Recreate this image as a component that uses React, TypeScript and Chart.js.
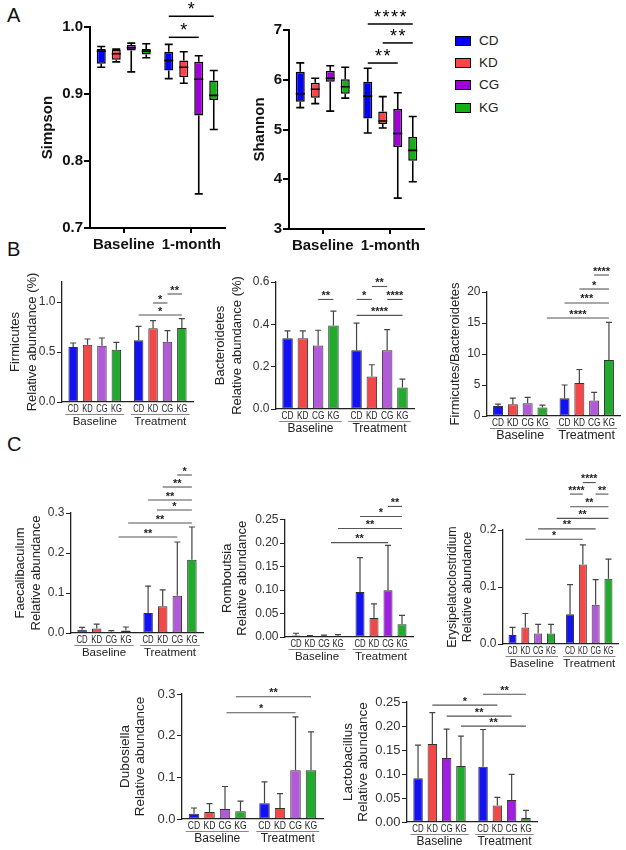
import React, { useEffect, useRef } from 'react';
import { Chart, registerables } from 'chart.js';
Chart.register(...registerables);

// ---------- categories ----------
const groupNames = ['CD', 'KD', 'CG', 'KG'];
const timeLabelsA = ['Baseline', '1-month'];
const phaseLabels = ['Baseline', 'Treatment'];

// ---------- Panel A : box plots (order CD,KD,CG,KG baseline, then CD,KD,CG,KG 1-month) ----------
const simpsonMin = [0.940, 0.948, 0.933, 0.954, 0.923, 0.916, 0.751, 0.847];
const simpsonQ1 = [0.945, 0.951, 0.965, 0.959, 0.935, 0.925, 0.868, 0.891];
const simpsonMedian = [0.964, 0.960, 0.969, 0.964, 0.950, 0.940, 0.922, 0.898];
const simpsonQ3 = [0.967, 0.966, 0.973, 0.967, 0.963, 0.950, 0.948, 0.920];
const simpsonMax = [0.971, 0.967, 0.976, 0.975, 0.974, 0.963, 0.957, 0.935];
const simpsonTicks = [0.7, 0.8, 0.9, 1.0];
const simpsonSig: [number, number, number, string][] = [[4, 7, 1.016, '*'], [4, 6, 0.9846, '*']];

const shannonMin = [5.44, 5.52, 5.37, 5.63, 4.93, 5.03, 3.62, 3.95];
const shannonQ1 = [5.56, 5.64, 5.96, 5.72, 5.22, 5.11, 4.65, 4.37];
const shannonMedian = [5.72, 5.81, 6.03, 5.86, 5.67, 5.17, 4.92, 4.58];
const shannonQ3 = [6.16, 5.94, 6.18, 6.01, 5.96, 5.36, 5.41, 4.85];
const shannonMax = [6.34, 6.03, 6.28, 6.25, 6.23, 5.66, 5.74, 5.26];
const shannonTicks = [3, 4, 5, 6, 7];
const shannonSig: [number, number, number, string][] = [[4, 7, 7.12, '****'], [5, 7, 6.74, '**'], [4, 6, 6.336, '**']];

// ---------- Panels B / C : mean and SD ----------
const firmicutesMean = [0.55, 0.573, 0.563, 0.523, 0.617, 0.737, 0.603, 0.74];
const firmicutesSD = [0.04, 0.057, 0.077, 0.074, 0.14, 0.076, 0.11, 0.093];
const firmicutesTicks = [0, 0.5, 1.0];
const firmicutesSig: [number, number, number, string][] = [[6, 7, 1.08, '**'], [5, 6, 0.99, '*'], [4, 7, 0.87, '*']];

const bacteroidetesMean = [0.334, 0.334, 0.300, 0.395, 0.278, 0.153, 0.277, 0.102];
const bacteroidetesSD = [0.035, 0.035, 0.072, 0.067, 0.128, 0.056, 0.098, 0.039];
const bacteroidetesTicks = [0, 0.2, 0.4, 0.6];
const bacteroidetesSig: [number, number, number, string][] = [
  [5, 6, 0.5788, '**'], [2, 3, 0.5176, '**'], [4, 5, 0.5176, '*'], [6, 7, 0.5176, '****'], [4, 7, 0.4424, '****'],
];

const ratioMean = [1.63, 1.9, 2.07, 1.36, 2.88, 5.33, 2.5, 9.02];
const ratioSD = [0.27, 0.98, 0.92, 0.38, 2.12, 2.17, 1.3, 6.08];
const ratioTicks = [0, 5, 10, 15, 20];
const ratioSig: [number, number, number, string][] = [[6, 7, 22.74, '****'], [5, 7, 20.48, '*'], [4, 7, 18.23, '***'], [3.2, 7, 15.8, '****']];

const faecalibaculumMean = [0.0083, 0.011, 0.0033, 0.006, 0.05, 0.067, 0.093, 0.183];
const faecalibaculumSD = [0.0057, 0.011, 0.0027, 0.009, 0.067, 0.041, 0.1345, 0.082];
const faecalibaculumTicks = [0, 0.1, 0.2, 0.3];
const faecalibaculumSig: [number, number, number, string][] = [
  [6, 7, 0.395, '*'], [5, 7, 0.365, '**'], [4, 7, 0.3325, '**'], [4.6, 7, 0.3075, '*'], [3.1, 7, 0.275, '**'], [2.5, 6, 0.24, '**'],
];

const romboutsiaMean = [0.003, 0.0015, 0.0015, 0.0015, 0.096, 0.0405, 0.0996, 0.027];
const romboutsiaSD = [0.005, 0.0015, 0.0025, 0.0035, 0.073, 0.03, 0.0954, 0.019];
const romboutsiaTicks = [0, 0.05, 0.1, 0.15, 0.2, 0.25];
const romboutsiaSig: [number, number, number, string][] = [[6, 7, 0.2778, '**'], [4, 7, 0.2564, '*'], [3, 7, 0.2308, '**'], [2.5, 6, 0.2009, '**']];

const erysipelatoclostridiumMean = [0.0157, 0.029, 0.0186, 0.0186, 0.0523, 0.1395, 0.069, 0.1145];
const erysipelatoclostridiumSD = [0.0133, 0.0245, 0.0157, 0.0157, 0.0517, 0.0345, 0.044, 0.0345];
const erysipelatoclostridiumTicks = [0, 0.1, 0.2];
const erysipelatoclostridiumSig: [number, number, number, string][] = [
  [5, 6, 0.2832, '****'], [4, 5, 0.263, '****'], [6, 7, 0.263, '**'], [4, 7, 0.2408, '**'], [3.3, 7, 0.2204, '**'], [2, 6, 0.2019, '**'], [1, 5, 0.1838, '*'],
];

const dubosiellaMean = [0.0128, 0.0168, 0.024, 0.0184, 0.0376, 0.0264, 0.117, 0.117];
const dubosiellaSD = [0.0136, 0.02, 0.054, 0.0246, 0.0514, 0.0346, 0.128, 0.092];
const dubosiellaTicks = [0, 0.1, 0.2, 0.3];
const dubosiellaSig: [number, number, number, string][] = [[2.7, 7, 0.2933, '**'], [2.1, 6, 0.2549, '*']];

const lactobacillusMean = [0.0912, 0.1623, 0.1333, 0.1167, 0.1153, 0.0345, 0.0456, 0.0083];
const lactobacillusSD = [0.0688, 0.0657, 0.0601, 0.0622, 0.0774, 0.0166, 0.0538, 0.0159];
const lactobacillusTicks = [0, 0.05, 0.1, 0.15, 0.2, 0.25];
const lactobacillusSig: [number, number, number, string][] = [[4, 7, 0.2662, '**'], [1, 5, 0.2434, '*'], [2, 6, 0.2205, '**'], [3, 7, 0.1998, '**']];

// ---------- styling ----------
const W = 626;
const H = 850;
const Y_AXIS_W = 45;
const X_AXIS_H = 30;
const FONT = 'Arial, "Liberation Sans", Helvetica, sans-serif';
const font = (size: number, bold = false) => `${bold ? 'bold ' : ''}${size}px ${FONT}`;

const A_COLORS = ['#0000ff', '#ff4545', '#a100d8', '#14b014'];
const BLUE = '#1212f2';
const RED = '#f34848';
const GREEN = '#22aa2e';
const PURPLE_LIGHT = '#b25bd8';
const PURPLE_SAT = '#a01de2';

type BoxSpec = {
  min: number[]; q1: number[]; med: number[]; q3: number[]; max: number[];
  ticks: number[]; dec: number; sig: [number, number, number, string][];
  left: number; right: number; top: number; bottom: number;
  barW: number; spacing: number; title: string; titleX: number;
};

type BarSpec = {
  mean: number[]; sd: number[]; ticks: number[]; yMax: number; dec: number;
  sig: [number, number, number, string][];
  left: number; right: number; top: number; bottom: number;
  barW: number; spacing: number; purple: string;
  title: string[]; titleX: number[]; titleSize: number;
  tickSize: number; labelSize: number; labelSqueeze: number; groupSize: number; sigSize: number;
};

function barPositions(chart: any) {
  const xs: number[] = [];
  const ws: number[] = [];
  for (let i = 0; i < 8; i++) {
    const el = chart.getDatasetMeta(i % 4).data[Math.floor(i / 4)];
    xs.push(el.x);
    ws.push(el.width);
  }
  const xAt = (f: number) => {
    const i = Math.min(Math.floor(f), 6);
    const t = f - i;
    return xs[i] + (xs[i + 1] - xs[i]) * t;
  };
  return { xs, ws, xAt };
}

function makeBoxConfig(s: BoxSpec) {
  const catW = (s.right - s.left) / 2;
  const datasets = groupNames.map((g, k) => ({
    label: g,
    data: [[s.q1[k], s.q3[k]], [s.q1[k + 4], s.q3[k + 4]]],
    backgroundColor: A_COLORS[k],
    borderColor: '#000',
    borderWidth: 1.5,
    borderSkipped: false,
    categoryPercentage: (4 * s.spacing) / catW,
    barPercentage: s.barW / s.spacing,
  }));
  const decor = {
    id: 'boxDecor',
    afterDatasetsDraw(chart: any) {
      const ctx = chart.ctx as CanvasRenderingContext2D;
      const ca = chart.chartArea;
      const ys = chart.scales.y;
      const { xs, ws, xAt } = barPositions(chart);
      ctx.save();
      ctx.strokeStyle = '#000';
      ctx.lineWidth = 1.6;
      for (let i = 0; i < 8; i++) {
        const x = xs[i];
        const cap = 4;
        const pMax = ys.getPixelForValue(s.max[i]);
        const pQ3 = ys.getPixelForValue(s.q3[i]);
        const pQ1 = ys.getPixelForValue(s.q1[i]);
        const pMin = ys.getPixelForValue(s.min[i]);
        const pMed = ys.getPixelForValue(s.med[i]);
        ctx.beginPath();
        ctx.moveTo(x, pMax); ctx.lineTo(x, pQ3);
        ctx.moveTo(x, pQ1); ctx.lineTo(x, pMin);
        ctx.moveTo(x - cap, pMax); ctx.lineTo(x + cap, pMax);
        ctx.moveTo(x - cap, pMin); ctx.lineTo(x + cap, pMin);
        ctx.moveTo(x - ws[i] / 2, pMed); ctx.lineTo(x + ws[i] / 2, pMed);
        ctx.stroke();
      }
      // significance
      ctx.lineWidth = 1.5;
      ctx.fillStyle = '#000';
      ctx.font = font(18);
      ctx.textAlign = 'center';
      ctx.textBaseline = 'alphabetic';
      (ctx as any).letterSpacing = '1.5px';
      s.sig.forEach(([a, b, v, label]) => {
        const x1 = xAt(a);
        const x2 = xAt(b);
        const yy = ys.getPixelForValue(v);
        ctx.beginPath(); ctx.moveTo(x1, yy); ctx.lineTo(x2, yy); ctx.stroke();
        ctx.fillText(label, (x1 + x2) / 2 + 0.75, yy - 1);
      });
      (ctx as any).letterSpacing = '0px';
      // title
      ctx.font = font(15, true);
      ctx.fillStyle = '#111';
      ctx.translate(ca.left + s.titleX, (ca.top + ca.bottom) / 2);
      ctx.rotate(-Math.PI / 2);
      ctx.textBaseline = 'middle';
      ctx.fillText(s.title, 0, 0);
      ctx.restore();
    },
  };
  return {
    type: 'bar',
    data: { labels: timeLabelsA, datasets },
    options: {
      responsive: false,
      animation: false,
      events: [],
      layout: { padding: { left: s.left - Y_AXIS_W, top: s.top, right: W - s.right, bottom: H - s.bottom - X_AXIS_H } },
      plugins: { legend: { display: false }, tooltip: { enabled: false } },
      scales: {
        x: {
          type: 'category',
          offset: true,
          grid: { display: true, offset: false, drawOnChartArea: false, drawTicks: true, tickLength: 5, color: '#000', lineWidth: 2 },
          border: { display: true, color: '#000', width: 2 },
          ticks: { font: { family: FONT, size: 15, weight: 'bold' }, color: '#111', padding: 3, maxRotation: 0, minRotation: 0, autoSkip: false },
          afterFit: (sc: any) => { sc.height = X_AXIS_H; },
        },
        y: {
          type: 'linear',
          min: s.ticks[0],
          max: s.ticks[s.ticks.length - 1],
          afterBuildTicks: (sc: any) => { sc.ticks = s.ticks.map((v) => ({ value: v })); },
          grid: { display: true, drawOnChartArea: false, drawTicks: true, tickLength: 6, color: '#000', lineWidth: 2 },
          border: { display: true, color: '#000', width: 2 },
          ticks: { font: { family: FONT, size: 15, weight: 'bold' }, color: '#111', padding: 1, callback: (v: any) => Number(v).toFixed(s.dec) },
          afterFit: (sc: any) => { sc.width = Y_AXIS_W; },
        },
      },
    },
    plugins: [decor],
  };
}

function makeBarConfig(s: BarSpec) {
  const catW = (s.right - s.left) / 2;
  const colors = [BLUE, RED, s.purple, GREEN];
  const datasets = groupNames.map((g, k) => ({
    label: g,
    data: [s.mean[k], s.mean[k + 4]],
    backgroundColor: colors[k],
    borderColor: '#333',
    borderWidth: 1,
    borderSkipped: false,
    categoryPercentage: (4 * s.spacing) / catW,
    barPercentage: s.barW / s.spacing,
  }));
  const decor = {
    id: 'barDecor',
    afterDatasetsDraw(chart: any) {
      const ctx = chart.ctx as CanvasRenderingContext2D;
      const ca = chart.chartArea;
      const ys = chart.scales.y;
      const { xs, ws, xAt } = barPositions(chart);
      ctx.save();
      // error bars (upper SD)
      ctx.strokeStyle = '#444';
      ctx.lineWidth = 1.2;
      for (let i = 0; i < 8; i++) {
        const yb = ys.getPixelForValue(s.mean[i]);
        const yt = ys.getPixelForValue(s.mean[i] + s.sd[i]);
        const cap = 3;
        ctx.beginPath();
        ctx.moveTo(xs[i], yb); ctx.lineTo(xs[i], yt);
        ctx.moveTo(xs[i] - cap, yt); ctx.lineTo(xs[i] + cap, yt);
        ctx.stroke();
      }
      // significance
      ctx.strokeStyle = '#555';
      ctx.lineWidth = 1.1;
      ctx.fillStyle = '#222';
      ctx.font = font(s.sigSize, true);
      ctx.textAlign = 'center';
      ctx.textBaseline = 'alphabetic';
      s.sig.forEach(([a, b, v, label]) => {
        const x1 = xAt(a);
        const x2 = xAt(b);
        const yy = ys.getPixelForValue(v);
        ctx.beginPath(); ctx.moveTo(x1, yy); ctx.lineTo(x2, yy); ctx.stroke();
        ctx.fillText(label, (x1 + x2) / 2, yy - 0.5);
      });
      // group labels under bars (condensed, as in the figure)
      ctx.fillStyle = '#222';
      ctx.textBaseline = 'middle';
      ctx.font = font(s.labelSize);
      for (let i = 0; i < 8; i++) {
        ctx.save();
        ctx.translate(xs[i], ca.bottom + 7);
        ctx.scale(s.labelSqueeze, 1);
        ctx.fillText(groupNames[i % 4], 0, 0);
        ctx.restore();
      }
      ctx.strokeStyle = '#888';
      ctx.lineWidth = 1;
      for (let p = 0; p < 2; p++) {
        const l = xs[p * 4] - ws[p * 4] / 2 - 3;
        const r = xs[p * 4 + 3] + ws[p * 4 + 3] / 2 + 3;
        const uy = ca.bottom + 12.5;
        ctx.beginPath(); ctx.moveTo(l, uy); ctx.lineTo(r, uy); ctx.stroke();
        ctx.font = font(s.groupSize);
        ctx.fillText(phaseLabels[p], (l + r) / 2, ca.bottom + 19.5);
      }
      // y title
      ctx.font = font(s.titleSize);
      ctx.fillStyle = '#222';
      const cy = (ca.top + ca.bottom) / 2;
      s.title.forEach((t, k) => {
        ctx.save();
        ctx.translate(ca.left + s.titleX[k], cy);
        ctx.rotate(-Math.PI / 2);
        ctx.textBaseline = 'middle';
        ctx.textAlign = 'center';
        ctx.fillText(t, 0, 0);
        ctx.restore();
      });
      ctx.restore();
    },
  };
  return {
    type: 'bar',
    data: { labels: phaseLabels, datasets },
    options: {
      responsive: false,
      animation: false,
      events: [],
      layout: { padding: { left: s.left - Y_AXIS_W, top: s.top, right: W - s.right, bottom: H - s.bottom } },
      plugins: { legend: { display: false }, tooltip: { enabled: false } },
      scales: {
        x: {
          type: 'category',
          offset: true,
          grid: { display: false },
          border: { display: true, color: '#222', width: 1.3 },
          ticks: { display: false },
          afterFit: (sc: any) => { sc.height = 0; },
        },
        y: {
          type: 'linear',
          min: 0,
          max: s.yMax,
          afterBuildTicks: (sc: any) => { sc.ticks = s.ticks.map((v) => ({ value: v })); },
          grid: { display: true, drawOnChartArea: false, drawTicks: true, tickLength: 5, color: '#222', lineWidth: 1 },
          border: { display: true, color: '#222', width: 1.3 },
          ticks: { font: { family: FONT, size: s.tickSize }, color: '#333', padding: 1.5, callback: (v: any) => Number(v).toFixed(s.dec) },
          afterFit: (sc: any) => { sc.width = Y_AXIS_W; },
        },
      },
    },
    plugins: [decor],
  };
}

const boxSpecs: BoxSpec[] = [
  { min: simpsonMin, q1: simpsonQ1, med: simpsonMedian, q3: simpsonQ3, max: simpsonMax, ticks: simpsonTicks, dec: 1, sig: simpsonSig,
    left: 90, right: 225, top: 27, bottom: 228, barW: 9, spacing: 15, title: 'Simpson', titleX: -42 },
  { min: shannonMin, q1: shannonQ1, med: shannonMedian, q3: shannonQ3, max: shannonMax, ticks: shannonTicks, dec: 0, sig: shannonSig,
    left: 289, right: 424, top: 30, bottom: 229, barW: 9, spacing: 15, title: 'Shannon', titleX: -29 },
];

const barSpecs: BarSpec[] = [
  { mean: firmicutesMean, sd: firmicutesSD, ticks: firmicutesTicks, yMax: 1.2, dec: 1, sig: firmicutesSig,
    left: 62, right: 193, top: 282, bottom: 402, barW: 9.5, spacing: 14.4, purple: PURPLE_LIGHT,
    title: ['Firmicutes', 'Relative abundance (%)'], titleX: [-47, -30], titleSize: 13, tickSize: 12, labelSize: 10.5, labelSqueeze: 0.72, groupSize: 11.5, sigSize: 11 },
  { mean: bacteroidetesMean, sd: bacteroidetesSD, ticks: bacteroidetesTicks, yMax: 0.6, dec: 1, sig: bacteroidetesSig,
    left: 276, right: 414, top: 282, bottom: 409, barW: 10.5, spacing: 15.3, purple: PURPLE_LIGHT,
    title: ['Bacteroidetes', 'Relative abundance (%)'], titleX: [-56, -39], titleSize: 13, tickSize: 12, labelSize: 11, labelSqueeze: 0.75, groupSize: 12, sigSize: 11 },
  { mean: ratioMean, sd: ratioSD, ticks: ratioTicks, yMax: 20, dec: 0, sig: ratioSig,
    left: 487, right: 620, top: 292, bottom: 416, barW: 10, spacing: 14.8, purple: PURPLE_LIGHT,
    title: ['Firmicutes/Bacteroidetes'], titleX: [-32], titleSize: 13, tickSize: 12, labelSize: 11.5, labelSqueeze: 0.72, groupSize: 12.5, sigSize: 11 },
  { mean: faecalibaculumMean, sd: faecalibaculumSD, ticks: faecalibaculumTicks, yMax: 0.3, dec: 1, sig: faecalibaculumSig,
    left: 71, right: 203, top: 513, bottom: 633, barW: 9.5, spacing: 14.6, purple: PURPLE_LIGHT,
    title: ['Faecalibaculum', 'Relative abundance'], titleX: [-51, -35], titleSize: 13, tickSize: 12, labelSize: 10.5, labelSqueeze: 0.74, groupSize: 11.5, sigSize: 11 },
  { mean: romboutsiaMean, sd: romboutsiaSD, ticks: romboutsiaTicks, yMax: 0.25, dec: 2, sig: romboutsiaSig,
    left: 285, right: 413, top: 519.5, bottom: 637, barW: 9, spacing: 14, purple: PURPLE_SAT,
    title: ['Romboutsia', 'Relative abundance'], titleX: [-58, -43], titleSize: 13, tickSize: 12, labelSize: 10.5, labelSqueeze: 0.74, groupSize: 11.5, sigSize: 11 },
  { mean: erysipelatoclostridiumMean, sd: erysipelatoclostridiumSD, ticks: erysipelatoclostridiumTicks, yMax: 0.2, dec: 1, sig: erysipelatoclostridiumSig,
    left: 503, right: 618, top: 530, bottom: 644, barW: 8, spacing: 12.8, purple: PURPLE_LIGHT,
    title: ['Erysipelatoclostridium', 'Relative abundance'], titleX: [-50, -35], titleSize: 12.5, tickSize: 12, labelSize: 10, labelSqueeze: 0.7, groupSize: 11.5, sigSize: 10.5 },
  { mean: dubosiellaMean, sd: dubosiellaSD, ticks: dubosiellaTicks, yMax: 0.3, dec: 1, sig: dubosiellaSig,
    left: 182, right: 323, top: 694, bottom: 819, barW: 10.5, spacing: 15.5, purple: PURPLE_LIGHT,
    title: ['Dubosiella', 'Relative abundance'], titleX: [-57, -42], titleSize: 13.5, tickSize: 13, labelSize: 11, labelSqueeze: 0.78, groupSize: 12, sigSize: 11 },
  { mean: lactobacillusMean, sd: lactobacillusSD, ticks: lactobacillusTicks, yMax: 0.25, dec: 2, sig: lactobacillusSig,
    left: 407, right: 537, top: 702, bottom: 822, barW: 9.5, spacing: 14.3, purple: PURPLE_SAT,
    title: ['Lactobacillus', 'Relative abundance'], titleX: [-59, -44], titleSize: 13.5, tickSize: 13, labelSize: 11, labelSqueeze: 0.72, groupSize: 12, sigSize: 11 },
];

function ChartCanvas({ make }: { make: () => any }) {
  const ref = useRef<HTMLCanvasElement>(null);
  useEffect(() => {
    if (!ref.current) return;
    const chart = new Chart(ref.current, make());
    return () => chart.destroy();
  }, []);
  return (
    <canvas
      ref={ref}
      width={W}
      height={H}
      style={{ position: 'absolute', left: 0, top: 0, width: W, height: H }}
    />
  );
}

const letterStyle = (top: number): React.CSSProperties => ({
  position: 'absolute', left: 7, top, fontSize: 20, lineHeight: '20px', fontFamily: FONT, color: '#111',
});

export default function App() {
  return (
    <div style={{ position: 'absolute', left: 0, top: 0, width: W, height: H, background: '#fff', overflow: 'hidden' }}>
      <div style={letterStyle(4.5)}>A</div>
      <div style={letterStyle(239)}>B</div>
      <div style={letterStyle(434)}>C</div>
      {groupNames.map((g, k) => (
        <div key={g} style={{ position: 'absolute', left: 455, top: 41 + k * 22.2 - 8, height: 16, display: 'flex', alignItems: 'center' }}>
          <div style={{ width: 14, height: 8, background: A_COLORS[k], border: '1.5px solid #000' }} />
          <span style={{ marginLeft: 8, fontFamily: FONT, fontSize: 13.5, color: '#222', lineHeight: '16px' }}>{g}</span>
        </div>
      ))}
      {boxSpecs.map((s, i) => (
        <ChartCanvas key={'box' + i} make={() => makeBoxConfig(s)} />
      ))}
      {barSpecs.map((s, i) => (
        <ChartCanvas key={'bar' + i} make={() => makeBarConfig(s)} />
      ))}
    </div>
  );
}
